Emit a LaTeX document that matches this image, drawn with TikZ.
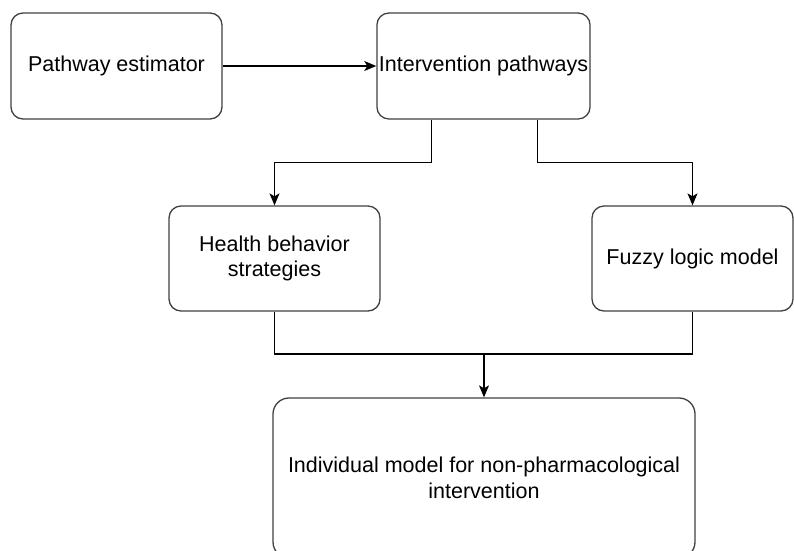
\documentclass[tikz,border=0pt]{standalone}
\usepackage{fontspec}
\setmainfont{Liberation Sans}
\usepackage{tikz}
\usetikzlibrary{arrows.meta}

\definecolor{boxline}{HTML}{404040}

\begin{document}
\begin{tikzpicture}[x=1pt,y=-1pt,
    font=\fontsize{21.5}{25.5}\selectfont,
    box/.style={draw=boxline, line width=1.3pt, rounded corners=12pt,
      align=center, inner sep=2pt},
    arr/.style={-{Stealth[length=12pt,width=10pt,inset=3pt]}, line width=1.3pt}]

      \useasboundingbox (0,0) rectangle (794,550);

      % top row
      \node[box, minimum width=211pt, minimum height=106pt] (est) at (116.5,66) {Pathway estimator};
      \node[box, minimum width=211pt, minimum height=106pt] (path) at (483.5,66) {Intervention pathways};

      % middle row
      \node[box, minimum width=211pt, minimum height=105pt] (health) at (274.5,258.5) {Health behavior\\strategies};
      \node[box, minimum width=201pt, minimum height=105pt] (fuzzy) at (692.5,258.5) {Fuzzy logic model};

      % bottom box (cut off at the lower edge)
      \node[box, rounded corners=16pt, minimum width=422pt, minimum height=160pt] (indiv) at (484,478)
        {Individual model for non-pharmacological\\intervention};

      % estimator -> pathways
      \draw[arr] (est.east) -- (path.west);

      % pathways branch to the two methods
      \draw[arr] ([xshift=-52pt]path.south) -- ++(0,43) -| (health.north);
      \draw[arr] ([xshift=54pt]path.south) -- ++(0,43) -| (fuzzy.north);

      % both methods join into the individual model
      \coordinate (join) at (484,354);
      \draw[line width=1.3pt] (health.south) |- (join) -| (fuzzy.south);
      \draw[arr] (join) -- (indiv.north);

    \end{tikzpicture}
\end{document}
